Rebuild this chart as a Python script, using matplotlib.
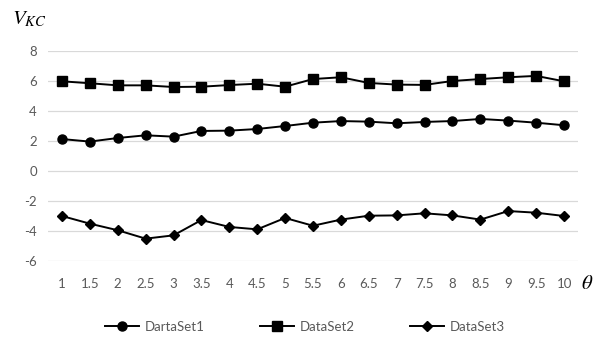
import matplotlib
matplotlib.use('Agg')
import matplotlib.pyplot as plt

plt.rcParams['font.family'] = ['Lato', 'DejaVu Sans']
plt.rcParams['mathtext.fontset'] = 'stix'
plt.rcParams['axes.unicode_minus'] = False

theta = [1, 1.5, 2, 2.5, 3, 3.5, 4, 4.5, 5, 5.5, 6, 6.5, 7, 7.5, 8, 8.5, 9, 9.5, 10]
tick_labels = ['1', '1.5', '2', '2.5', '3', '3.5', '4', '4.5', '5', '5.5',
               '6', '6.5', '7', '7.5', '8', '8.5', '9', '9.5', '10']
data_set1 = [2.13, 1.96, 2.2, 2.38, 2.29, 2.67, 2.69, 2.8, 3.0, 3.22,
             3.33, 3.29, 3.18, 3.27, 3.33, 3.47, 3.36, 3.22, 3.05]
data_set2 = [5.98, 5.85, 5.71, 5.71, 5.6, 5.62, 5.73, 5.82, 5.62, 6.13,
             6.25, 5.87, 5.76, 5.74, 6.0, 6.13, 6.25, 6.34, 5.98]
data_set3 = [-3.0, -3.51, -3.95, -4.51, -4.29, -3.27, -3.73, -3.89, -3.13, -3.65,
             -3.24, -2.98, -2.96, -2.82, -2.96, -3.24, -2.67, -2.78, -3.0]
labels = ['DartaSet1', 'DataSet2', 'DataSet3']

gray = '#595959'
fig = plt.figure(figsize=(5.93, 3.38), dpi=100)
ax = fig.add_axes([48 / 593, 1 - 261 / 338, 530 / 593, 210 / 338])

ax.plot(theta, data_set1, color='black', linewidth=1.4, marker='o', markersize=6.5, label=labels[0])
ax.plot(theta, data_set2, color='black', linewidth=1.4, marker='s', markersize=6.5, label=labels[1])
ax.plot(theta, data_set3, color='black', linewidth=1.4, marker='D', markersize=5, label=labels[2])

ax.set_xlim(0.75, 10.25)
ax.set_ylim(-6, 8)
ax.set_yticks(range(-6, 9, 2))
ax.set_xticks(theta)
ax.set_xticklabels(tick_labels)
ax.grid(axis='y', color='#d9d9d9', linewidth=0.9)
ax.set_axisbelow(True)
for s in ax.spines.values():
    s.set_visible(False)
ax.tick_params(length=0, labelsize=9.5, colors=gray)
ax.tick_params(axis='x', pad=12)
ax.tick_params(axis='y', pad=8)

fig.text(12 / 593, 1 - 19 / 338, r'$V_{KC}$', fontsize=15, ha='left', va='center')
fig.text(581 / 593, 1 - 283 / 338, r'$\theta$', fontsize=15, ha='left', va='center')

fig.legend(loc='center', bbox_to_anchor=(0.514, 1 - 327 / 338), ncol=3, frameon=False,
           fontsize=9.5, labelcolor=gray, handlelength=2.6, handletextpad=0.4,
           columnspacing=4.2)

fig.savefig('out.png', dpi=100)
